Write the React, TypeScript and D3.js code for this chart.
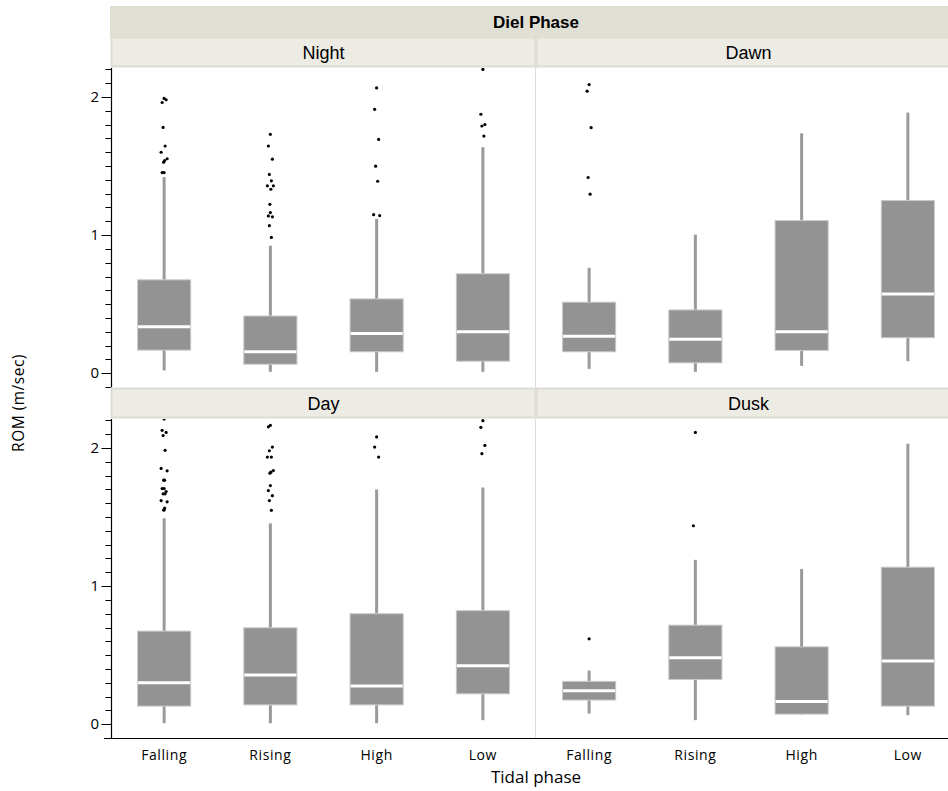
import React from "react";
import * as d3 from "d3";

// ---- data ----
const tidalPhases = ["Falling", "Rising", "High", "Low"];
const dielPhases = ["Night", "Dawn", "Day", "Dusk"];
const yTickLabels = ["0", "1", "2"];

// box stats per diel phase, order of tidalPhases: [whiskerLow, q1, median, q3, whiskerHigh]
const nightStats = [
  [0.02, 0.167, 0.336, 0.676, 1.42],
  [0.01, 0.065, 0.155, 0.414, 0.923],
  [0.01, 0.155, 0.288, 0.538, 1.117],
  [0.01, 0.087, 0.3, 0.72, 1.637],
];
const dawnStats = [
  [0.031, 0.155, 0.267, 0.514, 0.763],
  [0.01, 0.075, 0.245, 0.458, 1.003],
  [0.053, 0.165, 0.3, 1.105, 1.737],
  [0.087, 0.257, 0.574, 1.25, 1.887],
];
const dayStats = [
  [0.007, 0.131, 0.3, 0.674, 1.491],
  [0.007, 0.14, 0.356, 0.698, 1.454],
  [0.007, 0.14, 0.276, 0.8, 1.7],
  [0.029, 0.22, 0.424, 0.822, 1.714],
];
const duskStats = [
  [0.077, 0.175, 0.242, 0.31, 0.388],
  [0.029, 0.324, 0.482, 0.717, 1.19],
  [0.07, 0.073, 0.164, 0.56, 1.124],
  [0.065, 0.131, 0.458, 1.137, 2.031],
];

// outliers per diel phase, order of tidalPhases
const nightOutliers = [
  [1.99, 1.96, 1.98, 1.78, 1.645, 1.6, 1.553, 1.54, 1.528, 1.453, 1.453],
  [1.73, 1.645, 1.55, 1.439, 1.393, 1.357, 1.357, 1.332, 1.223, 1.163, 1.139, 1.132, 1.068, 0.983],
  [2.066, 1.911, 1.693, 1.499, 1.39, 1.148, 1.141],
  [2.2, 1.875, 1.8, 1.79, 1.717],
];
const dawnOutliers = [
  [2.09, 2.042, 1.778, 1.417, 1.296],
  [],
  [],
  [],
];
const dayOutliers = [
  [2.21, 2.128, 2.113, 2.09, 1.983, 1.852, 1.835, 1.767, 1.767, 1.706, 1.706, 1.685, 1.668, 1.668, 1.619, 1.61, 1.564, 1.551, 1.551],
  [2.164, 2.153, 2.007, 1.98, 1.934, 1.934, 1.837, 1.825, 1.818, 1.728, 1.692, 1.655, 1.619, 1.549],
  [2.08, 2.007, 1.934],
  [2.198, 2.15, 2.019, 1.959],
];
const duskOutliers = [
  [0.618],
  [2.113, 1.437],
  [],
  [],
];

const statsByPhase = [nightStats, dawnStats, dayStats, duskStats];
const outliersByPhase = [nightOutliers, dawnOutliers, dayOutliers, duskOutliers];

// ---- layout ----
const W = 948;
const H = 791;
const panelW = 425;
const panelX0 = [111, 536];
const rowTop = [68, 419];
const plotH = 319;
const headerH = 31;
const jitterPattern = [0, -2, 2, -1, 1, -3, 3, 0.5, -0.5];

const BOX = "#939393";
const FONT_HEAD = "'Liberation Sans', Arial, sans-serif";
const FONT_AX = "'Open Sans', sans-serif";

export default function App() {
  const minorTicks = d3.range(-1, 23).map((i) => i / 10);
  return (
    <svg width={W} height={H} style={{ position: "absolute", left: 0, top: 0, background: "#fff" }}>
      <defs>
        {dielPhases.map((p, i) => {
          const col = i % 2;
          const row = Math.floor(i / 2);
          return (
            <clipPath id={`clip${i}`} key={p}>
              <rect x={panelX0[col]} y={rowTop[row]} width={panelW} height={plotH} />
            </clipPath>
          );
        })}
      </defs>
      {/* top Diel Phase header */}
      <rect x={110} y={6} width={W - 110} height={31} fill="#e0dfd4" />
      <text x={536} y={28} textAnchor="middle" fontFamily={FONT_HEAD} fontWeight="bold" fontSize={17} fill="#000">
        Diel Phase
      </text>

      {/* panels */}
      {dielPhases.map((phase, i) => {
        const col = i % 2;
        const row = Math.floor(i / 2);
        const x0 = panelX0[col];
        const top = rowTop[row];
        const x = d3.scaleBand<string>().domain(tidalPhases).range([x0, x0 + panelW]).paddingInner(0.5).paddingOuter(0.25);
        const y = d3.scaleLinear().domain([-0.1, 2.21]).range([top + plotH, top]);
        const bw = x.bandwidth();
        const stats = statsByPhase[i];
        const outs = outliersByPhase[i];
        return (
          <g key={phase}>
            {/* header */}
            <rect x={x0 + 0.5} y={top - headerH + 0.5} width={panelW - 1} height={headerH - 2} fill="#ecebe4" stroke="#dedcd3" strokeWidth={2} />
            <text x={x0 + panelW / 2} y={top - 9} textAnchor="middle" fontFamily={FONT_HEAD} fontSize={18} fill="#000">
              {phase}
            </text>
            <g clipPath={`url(#clip${i})`}>
              {tidalPhases.map((t, k) => {
                const [wl, q1, med, q3, wh] = stats[k];
                const cx = (x(t) as number) + bw / 2;
                return (
                  <g key={t}>
                    <rect x={cx - 1.5} y={y(wh)} width={3} height={y(q3) - y(wh)} fill="#9a9a9a" />
                    <rect x={cx - 1.5} y={y(q1)} width={3} height={y(wl) - y(q1)} fill="#9a9a9a" />
                    <rect x={cx - bw / 2} y={y(q3)} width={bw} height={y(q1) - y(q3)} fill={BOX} stroke="#c9c9c9" strokeWidth={1} />
                    <line x1={cx - bw / 2 + 0.5} x2={cx + bw / 2 - 0.5} y1={y(med)} y2={y(med)} stroke="#fff" strokeWidth={3} />
                    {outs[k].map((v, j) => (
                      <circle key={j} cx={cx + jitterPattern[j % jitterPattern.length]} cy={y(v)} r={1.6} fill="#000" />
                    ))}
                  </g>
                );
              })}
            </g>
            {/* y axis on left column */}
            {col === 0 && (
              <g>
                <line x1={x0 + 0.5} x2={x0 + 0.5} y1={top} y2={top + plotH} stroke="#000" strokeWidth={1.2} />
                {minorTicks.map((v) => {
                  const major = Math.abs(v - Math.round(v)) < 1e-6;
                  return (
                    <line key={v} x1={x0 + 0.5 - (major ? 10 : 6)} x2={x0 + 0.5} y1={Math.round(y(v)) + 0.5} y2={Math.round(y(v)) + 0.5} stroke="#000" strokeWidth={1} />
                  );
                })}
                {yTickLabels.map((lab) => (
                  <text key={lab} x={x0 - 12} y={y(+lab)} dy="0.35em" textAnchor="end" fontFamily={FONT_AX} fontSize={15} fill="#000">
                    {lab}
                  </text>
                ))}
              </g>
            )}
            {/* x labels on bottom row */}
            {row === 1 &&
              tidalPhases.map((t) => (
                <text key={t} x={(x(t) as number) + bw / 2} y={760} textAnchor="middle" fontFamily={FONT_AX} fontSize={14} letterSpacing={0.6} fill="#000">
                  {t}
                </text>
              ))}
          </g>
        );
      })}

      {/* divider between columns */}
      <line x1={535.5} x2={535.5} y1={rowTop[0]} y2={rowTop[0] + plotH} stroke="#dcdcdc" strokeWidth={1} />
      <line x1={535.5} x2={535.5} y1={rowTop[1]} y2={rowTop[1] + plotH} stroke="#dcdcdc" strokeWidth={1} />

      {/* x axis line */}
      <line x1={104} x2={W} y1={rowTop[1] + plotH + 0.5} y2={rowTop[1] + plotH + 0.5} stroke="#000" strokeWidth={1.2} />

      <text x={536} y={783} textAnchor="middle" fontFamily={FONT_AX} fontSize={17} fill="#000">
        Tidal phase
      </text>
      <text transform={`translate(24,403) rotate(-90)`} textAnchor="middle" fontFamily={FONT_AX} fontSize={15.5} letterSpacing={0.5} fill="#000">
        ROM (m/sec)
      </text>
    </svg>
  );
}
